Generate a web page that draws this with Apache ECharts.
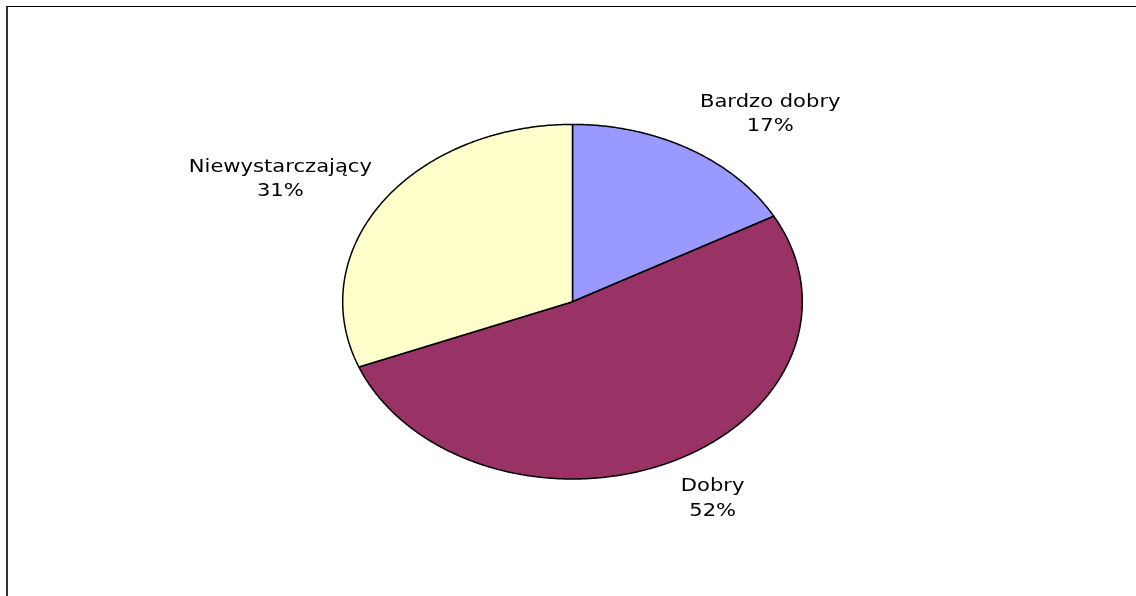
<!DOCTYPE html>
<html>
<head>
<meta charset="utf-8">
<script src="https://cdn.jsdelivr.net/npm/echarts@6/dist/echarts.min.js"></script>
<style>
  html, body { margin: 0; padding: 0; background: #fff; overflow: hidden; width: 1136px; height: 596px; }
  #frame { position: absolute; left: 6px; top: 6px; width: 1130px; height: 590px;
           border-top: 1px solid #000; border-left: 2px solid #333; box-sizing: border-box; }
  #chart { position: absolute; left: 0; top: 0; width: 1136px; height: 596px; }
</style>
</head>
<body>
<div id="frame"></div>
<div id="chart"></div>
<script>
const categories = ['Bardzo dobry', 'Dobry', 'Niewystarczający'];
const values = [17, 52, 31];
const colors = ['#9999FF', '#993366', '#FFFFCC'];

const total = values.reduce((a, b) => a + b, 0);
const cum = [];
values.reduce((acc, v, i) => { cum[i] = acc; return acc + v; }, 0);

const FONT_SIZE = 18.5;
const FONT_FAMILY = 'DejaVu Sans';
const SCALE_X = 1.14;
const LINE_H = 24.5;
const measureCtx = document.createElement('canvas').getContext('2d');
measureCtx.font = FONT_SIZE + 'px "' + FONT_FAMILY + '"';

const chart = echarts.init(document.getElementById('chart'), null, { renderer: 'canvas' });

function renderItem(params, api) {
  const i = params.dataIndex;
  const v = api.value(2);
  const start = cum[i] / total * Math.PI * 2;
  const end = start + v / total * Math.PI * 2;
  const n = Math.max(2, Math.ceil((end - start) / (Math.PI / 360)));
  const pts = [api.coord([0, 0])];
  for (let k = 0; k <= n; k++) {
    const t = start + (end - start) * k / n;
    pts.push(api.coord([Math.sin(t), Math.cos(t)]));
  }
  const mid = (start + end) / 2;
  const s = Math.sin(mid), c = Math.cos(mid);
  const p = api.coord([s, c]);
  const o = api.coord([0, 0]);
  const ry = o[1] - api.coord([0, 1])[1];
  const pct = Math.round(v / total * 100);
  const lines = [categories[i], pct + '%'];
  const w = Math.max.apply(null, lines.map(l => measureCtx.measureText(l).width)) * SCALE_X;
  const edgeX = p[0] + (s >= 0 ? 10.5 : -10.5);
  const cx = s >= 0 ? edgeX + w / 2 : edgeX - w / 2;
  const cy = o[1] - (ry + 40.5) * c;
  return {
    type: 'group',
    children: [
      {
        type: 'polygon',
        shape: { points: pts },
        style: { fill: colors[i], stroke: '#000', lineWidth: 1.5, lineJoin: 'round' }
      },
      {
        type: 'text',
        x: cx,
        y: cy,
        scaleX: SCALE_X,
        style: {
          text: lines.join('\n'),
          fill: '#000',
          fontFamily: FONT_FAMILY,
          fontSize: FONT_SIZE,
          lineHeight: LINE_H,
          align: 'center',
          verticalAlign: 'middle'
        }
      }
    ]
  };
}

chart.setOption({
  animation: false,
  backgroundColor: 'transparent',
  grid: { left: 342.7, top: 124.4, width: 459.6, height: 354.6 },
  xAxis: { type: 'value', min: -1, max: 1, show: false },
  yAxis: { type: 'value', min: -1, max: 1, show: false },
  series: [{
    type: 'custom',
    renderItem: renderItem,
    clip: false,
    data: values.map((v, i) => ({ name: categories[i], value: [0, 0, v] }))
  }]
});
</script>
</body>
</html>
